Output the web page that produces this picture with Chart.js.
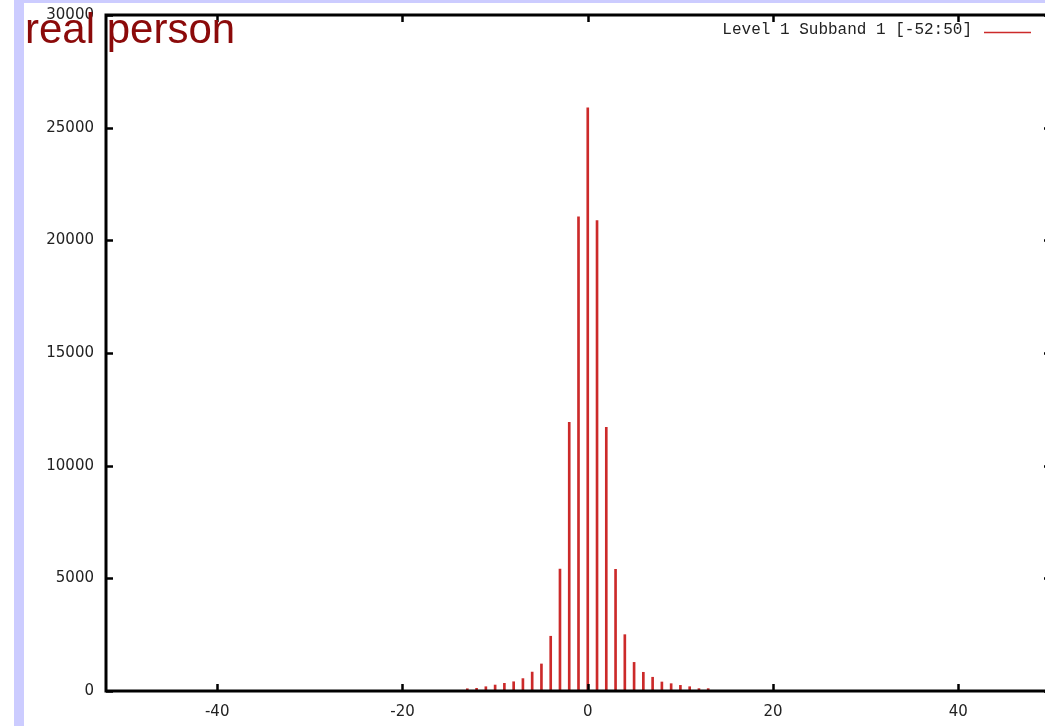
<!DOCTYPE html>
<html>
<head>
<meta charset="utf-8">
<script src="https://cdn.jsdelivr.net/npm/chart.js@4/dist/chart.umd.min.js"></script>
<style>
  html, body { margin: 0; padding: 0; background: #ffffff; overflow: hidden; width: 1045px; height: 726px; }
  #wrap { position: absolute; left: 0; top: 0; width: 1060px; height: 726px; }
  .lav { position: absolute; background: #ccccff; }
  canvas { position: absolute; left: 0; top: 0; }
</style>
</head>
<body>
<div class="lav" style="left:14px;top:0;width:10px;height:726px;"></div>
<div class="lav" style="left:14px;top:0;width:1031px;height:3px;"></div>
<div id="wrap"><canvas id="c" width="1060" height="726"></canvas></div>
<script>
// ---- data ----
const titleText = "real person";
const seriesLabel = "Level 1 Subband 1 [-52:50]";
const binValues = [-13,-12,-11,-10,-9,-8,-7,-6,-5,-4,-3,-2,-1,0,1,2,3,4,5,6,7,8,9,10,11,12,13];
const binCounts = [100,120,190,265,340,410,550,840,1200,2430,5410,11920,21040,25880,20880,11700,5400,2500,1270,830,610,400,325,250,190,105,105];
const xTicks = [-40,-20,0,20,40];
const yTicks = [0,5000,10000,15000,20000,25000,30000];
const xRange = [-52, 50];
const yRange = [0, 30000];

const barColor = '#cc2a2a';

const gnuplotFrame = {
  id: 'gnuplotFrame',
  afterDatasetsDraw(chart) {
    const ctx = chart.ctx;
    const a = chart.chartArea;
    const xs = chart.scales.x, ys = chart.scales.y;
    ctx.save();
    ctx.strokeStyle = '#000';
    ctx.lineWidth = 3;
    ctx.strokeRect(a.left, a.top, a.right - a.left, a.bottom - a.top);
    ctx.lineWidth = 2.5;
    const tl = 7;
    ctx.beginPath();
    xTicks.forEach(v => {
      const px = Math.round(xs.getPixelForValue(v)) + 0.5;
      ctx.moveTo(px, a.bottom); ctx.lineTo(px, a.bottom - tl);
      ctx.moveTo(px, a.top); ctx.lineTo(px, a.top + tl);
    });
    yTicks.forEach(v => {
      const py = Math.round(ys.getPixelForValue(v)) + 0.5;
      ctx.moveTo(a.left, py); ctx.lineTo(a.left + tl, py);
      ctx.moveTo(a.right, py); ctx.lineTo(a.right - tl, py);
    });
    ctx.stroke();

    // legend (inside plot, top right)
    const ds = chart.data.datasets[0];
    ctx.font = '16px "Liberation Mono", "DejaVu Sans Mono", monospace';
    ctx.fillStyle = '#222';
    ctx.textAlign = 'right';
    ctx.textBaseline = 'middle';
    ctx.fillText(ds.label, 972, 30);
    ctx.strokeStyle = ds.backgroundColor;
    ctx.lineWidth = 1.5;
    ctx.beginPath();
    ctx.moveTo(984, 32.5); ctx.lineTo(1031, 32.5);
    ctx.stroke();

    // title overlay
    ctx.font = '42px "Liberation Sans", Arial, sans-serif';
    ctx.fillStyle = '#8b0a0a';
    ctx.textAlign = 'left';
    ctx.textBaseline = 'alphabetic';
    ctx.fillText(titleText, 25, 43);
    ctx.restore();
  }
};

const tickFont = { family: '"DejaVu Sans", sans-serif', size: 15 };

new Chart(document.getElementById('c'), {
  type: 'bar',
  data: {
    datasets: [{
      label: seriesLabel,
      data: binValues.map((v, i) => ({ x: v, y: binCounts[i] })),
      backgroundColor: barColor,
      borderWidth: 0,
      barThickness: 2,
      grouped: false
    }]
  },
  options: {
    responsive: false,
    animation: false,
    devicePixelRatio: 1,
    layout: { padding: { left: 0, top: 15, right: 9, bottom: 0 } },
    plugins: { legend: { display: false }, tooltip: { enabled: false }, title: { display: false } },
    scales: {
      x: {
        type: 'linear',
        min: xRange[0], max: xRange[1],
        offset: false,
        grid: { display: false, drawTicks: false, offset: false },
        border: { display: false },
        afterBuildTicks: s => { s.ticks = xTicks.map(v => ({ value: v })); },
        afterFit: s => { s.height = 35; s.paddingLeft = 0; s.paddingRight = 0; s.paddingTop = 0; s.paddingBottom = 0; },
        ticks: { font: tickFont, color: '#222', padding: 12, maxRotation: 0, autoSkip: false,
                 callback: v => String(v) }
      },
      y: {
        type: 'linear',
        min: yRange[0], max: yRange[1],
        grid: { display: false, drawTicks: false },
        border: { display: false },
        afterBuildTicks: s => { s.ticks = yTicks.map(v => ({ value: v })); },
        afterFit: s => { s.width = 106; s.paddingLeft = 0; s.paddingRight = 0; s.paddingTop = 0; s.paddingBottom = 0; },
        ticks: { font: tickFont, color: '#222', padding: 12, autoSkip: false,
                 callback: v => String(v) }
      }
    }
  },
  plugins: [gnuplotFrame]
});
</script>
</body>
</html>
